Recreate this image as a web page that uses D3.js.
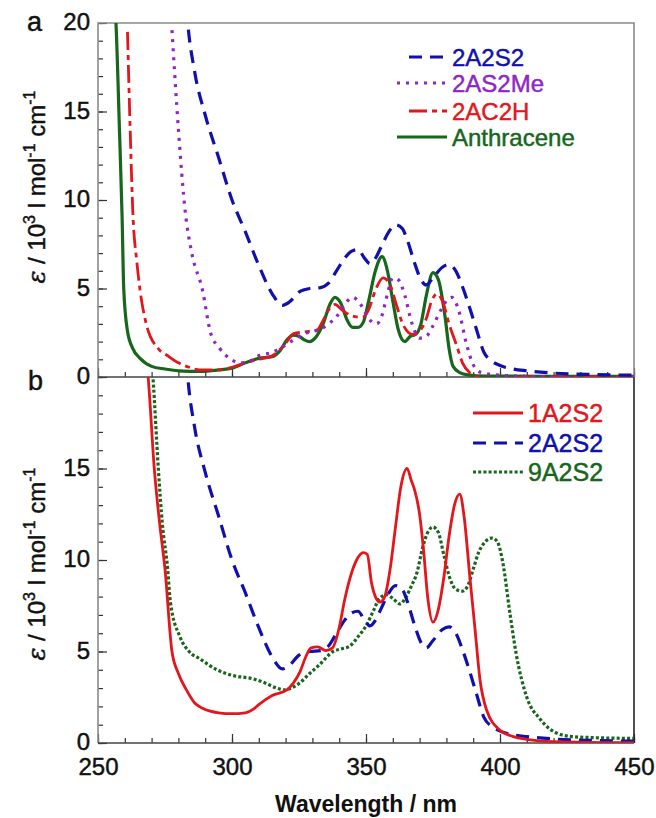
<!DOCTYPE html>
<html>
<head>
<meta charset="utf-8">
<script src="https://cdn.jsdelivr.net/npm/d3@7"></script>
<style>
  body { margin: 0; background: #fff; }
  svg { display: block; font-family: "Liberation Sans", Arial, sans-serif; }
  text { paint-order: stroke; stroke-width: 0.45px; }
</style>
</head>
<body>
<div id="chart"></div>
<script>
{
  // wavelength (nm), epsilon (10^3 l mol-1 cm-1)
  const A2S2_2 = [[282.5, 22], [283.5, 20], [286, 17.3], [290, 14.8], [295, 12.4], [300, 10.0], [305, 8.2], [310, 6.3], [315, 4.7], [318.8, 4.05], [321.5, 4.25], [325, 4.8], [329, 5.0], [333, 5.05], [336, 5.3], [339, 6.0], [342, 6.7], [344.5, 7.1], [347, 7.2], [349.5, 6.7], [351.5, 6.4], [353.5, 6.7], [355.5, 7.3], [358.5, 8.2], [361, 8.6], [363.5, 8.4], [365.5, 7.7], [368, 6.5], [370.5, 5.5], [372.5, 5.2], [375, 5.6], [378.5, 6.2], [381, 6.35], [383.5, 6.0], [386, 5.1], [388.5, 4.0], [391, 2.8], [394, 1.4], [397, 0.9], [400, 0.65], [405, 0.45], [410, 0.35], [420, 0.22], [435, 0.14], [450, 0.1]];

  const AS2Me_2 = [[277.6, 19.6], [280, 14], [282.5, 9.4], [285, 7.0], [289, 4.9], [292, 2.5], [295.5, 1.6], [300, 0.96], [303, 0.8], [306, 0.85], [310, 1.2], [315, 1.4], [320, 1.8], [324, 2.2], [328, 2.5], [333, 2.7], [336, 3.0], [339, 3.4], [342, 4.1], [345, 4.5], [348, 4.1], [351, 3.3], [354, 3.0], [356, 3.5], [358, 4.7], [360, 5.6], [362, 5.5], [364.5, 4.6], [367, 3.1], [370, 2.2], [372.5, 2.3], [375, 2.9], [378, 3.8], [380, 4.3], [382, 4.5], [384.5, 3.8], [387.6, 1.8], [390, 0.7], [393, 0.25], [400, 0.1], [420, 0.0], [437, -0.1], [450, 0]];

  const AC2H_2 = [[261, 19.5], [262, 14], [263, 9.3], [264.5, 6.5], [265.7, 4.9], [268, 3.0], [272.5, 1.6], [276, 1.2], [280, 0.8], [284, 0.55], [288, 0.4], [295, 0.4], [300, 0.55], [305, 0.8], [310, 1.0], [315, 1.2], [320, 1.9], [323, 2.45], [327, 2.55], [331.7, 2.65], [334, 3.2], [336.5, 3.9], [338.4, 4.1], [341, 3.8], [344, 3.5], [346.5, 3.4], [349, 3.4], [351, 3.8], [353.5, 4.9], [356.4, 5.6], [359, 5.2], [361.5, 4.0], [364, 2.9], [367.5, 2.4], [370, 2.6], [372.5, 3.3], [374.5, 4.3], [376.5, 4.7], [378.5, 4.3], [381, 3.0], [384, 1.7], [386, 0.8], [389, 0.2], [392, 0.0], [400, -0.1], [410, 0.0], [450, 0.0]];

  const anthracene = [[255.5, 22], [256.7, 20], [258, 14], [259, 9], [259.6, 5], [261, 2.6], [263, 1.6], [265.7, 1.05], [270, 0.6], [275, 0.45], [280, 0.35], [288, 0.32], [295, 0.4], [300, 0.5], [305, 0.8], [310, 1.05], [315, 1.15], [318, 1.5], [320.5, 2.1], [322.8, 2.37], [325, 2.3], [327, 2.1], [329, 2.0], [331, 2.2], [334, 3.0], [336.5, 4.1], [338.4, 4.5], [340.5, 4.2], [343, 3.2], [345, 2.8], [347, 2.8], [349, 3.1], [351, 4.3], [353.5, 6.0], [356, 6.8], [358, 6.0], [360, 4.3], [362, 2.7], [364.5, 2.0], [366.5, 2.3], [368.5, 2.4], [370.5, 3.0], [372.5, 4.6], [375, 5.9], [377, 5.5], [379.5, 3.4], [381, 1.6], [382.5, 0.6], [385, 0.25], [388, 0.12], [395, 0.05], [450, 0.03]];

  const A2S2_1 = [[268, 21], [268.7, 20], [271, 15], [273, 12], [275, 9.5], [277.6, 5.0], [280, 3.8], [283, 2.9], [286, 2.2], [289, 1.9], [295, 1.65], [300, 1.6], [305, 1.65], [308, 1.85], [310, 2.1], [315, 2.6], [320.5, 2.9], [323, 3.3], [325.4, 3.9], [327.5, 4.7], [329.5, 5.2], [332, 5.25], [335, 5.05], [337.5, 5.2], [340, 6.3], [342, 7.8], [344, 9.0], [346.5, 10.0], [349, 10.4], [350.5, 10.3], [352, 8.8], [353.5, 8.0], [355.2, 7.7], [357, 8.0], [359, 9.5], [361, 11.8], [363, 14.0], [365.3, 15.0], [367, 14.3], [368, 13.9], [370, 12.5], [371.5, 10.5], [373, 8.0], [375, 6.6], [377, 7.3], [379, 9.0], [381, 11.3], [383, 13.0], [385, 13.6], [386.5, 12.5], [388.8, 9.0], [390.7, 6.2], [392.5, 3.5], [395, 1.8], [400, 0.7], [405, 0.35], [410, 0.2], [420, 0.08], [450, 0.02]];

  const A2S2_9 = [[270, 21], [270.5, 20], [272.5, 15], [274, 12], [276, 9.5], [277, 7.7], [280.6, 5.8], [284, 5.0], [288, 4.6], [294.4, 4.0], [300, 3.7], [308, 3.5], [312, 3.3], [316.7, 3.0], [319.5, 2.9], [322, 3.0], [325.4, 3.3], [329, 3.8], [332.8, 4.3], [337.7, 5.0], [341, 5.15], [344, 5.3], [347, 5.8], [350, 6.4], [353, 7.3], [355, 7.9], [357.8, 8.1], [360, 7.9], [362.7, 7.6], [365, 8.0], [367, 8.6], [369, 9.3], [371, 10.6], [373, 11.5], [375, 11.8], [377, 11.5], [379, 10.3], [381.3, 9.0], [383.5, 8.4], [386, 8.3], [388, 8.6], [390, 9.5], [392, 10.4], [394.5, 11.0], [397, 11.2], [399, 11.0], [401, 9.9], [403.7, 7.1], [406, 4.9], [410, 2.5], [415, 1.3], [421, 0.55], [427, 0.35], [433.6, 0.3], [450, 0.25]];

  const X_MAJOR = [250, 300, 350, 400, 450];
  const Y_MAJOR_TOP = [0, 5, 10, 15, 20];
  const Y_MAJOR_BOT = [0, 5, 10, 15];

  const BLUE = "#1010ad";
  const PURPLE = "#8f25c6";
  const RED = "#e3161c";
  const GREEN = "#16661b";

  const width = 656;
  const height = 818;
  const left = 98, right = 634, top = 23, mid = 377, bottom = 743;

  const svg = d3.select("#chart").append("svg")
    .attr("width", width)
    .attr("height", height);

  const x = d3.scaleLinear().domain([250, 450]).range([left, right]);
  const yTop = d3.scaleLinear().domain([0, 20]).range([mid, top]);
  const yBot = d3.scaleLinear().domain([0, 20]).range([bottom, mid]);

  const defs = svg.append("defs");
  defs.append("clipPath").attr("id", "clipTop").append("rect")
    .attr("x", left).attr("y", top).attr("width", right - left).attr("height", mid - top);
  defs.append("clipPath").attr("id", "clipBot").append("rect")
    .attr("x", left).attr("y", mid).attr("width", right - left).attr("height", bottom - mid);

  function styleAxis(s) {
    s.select(".domain").remove();
    s.selectAll("line").attr("stroke", "#333").attr("stroke-width", 1.2);
    s.selectAll("text").attr("font-size", 24).attr("fill", "#111").attr("stroke", "#111")
      .attr("font-family", "'Liberation Sans', Arial, sans-serif");
  }

  // axes (inward ticks)
  function xAxis(y0, labels) {
    const g = svg.append("g").attr("transform", `translate(0,${y0})`);
    g.call(d3.axisBottom(x).tickValues(d3.range(250, 451, 10)).tickSize(-5).tickSizeOuter(0).tickFormat(""));
    const gm = svg.append("g").attr("transform", `translate(0,${y0})`);
    gm.call(d3.axisBottom(x).tickValues(X_MAJOR).tickSize(-9).tickSizeOuter(0).tickPadding(15)
      .tickFormat(labels ? d3.format("d") : ""));
    styleAxis(g);
    styleAxis(gm);
  }

  function yAxis(scaleY, majors) {
    const g = svg.append("g").attr("transform", `translate(${left},0)`);
    g.call(d3.axisLeft(scaleY).tickValues(d3.range(0, 21, 1)).tickSize(-5).tickSizeOuter(0).tickFormat(""));
    const gm = svg.append("g").attr("transform", `translate(${left},0)`);
    gm.call(d3.axisLeft(scaleY).tickValues(majors).tickSize(-9).tickSizeOuter(0).tickPadding(8).tickFormat(d3.format("d")));
    styleAxis(g);
    styleAxis(gm);
    gm.selectAll("text").attr("dy", "0.28em");
  }

  xAxis(mid, false);
  xAxis(bottom, true);
  yAxis(yTop, Y_MAJOR_TOP);
  yAxis(yBot, Y_MAJOR_BOT);

  // frame
  const frame = svg.append("g");
  frame.append("path").attr("d", `M${left},${mid}V${top}H${right}V${mid}`)
    .attr("fill", "none").attr("stroke", "#8a8a8a").attr("stroke-width", 1.6);
  frame.append("path").attr("d", `M${left},${mid}V${bottom}`)
    .attr("fill", "none").attr("stroke", "#8a8a8a").attr("stroke-width", 1.6);
  frame.append("path").attr("d", `M${right},${mid}V${bottom}`)
    .attr("fill", "none").attr("stroke", "#222").attr("stroke-width", 1.6);
  frame.append("line").attr("x1", left).attr("x2", right).attr("y1", mid).attr("y2", mid)
    .attr("stroke", "#444").attr("stroke-width", 1.6);
  frame.append("line").attr("x1", left).attr("x2", right).attr("y1", bottom).attr("y2", bottom)
    .attr("stroke", "#444").attr("stroke-width", 1.6);

  const topSeries = [
    { name: "2A2S2", data: A2S2_2, color: BLUE, dash: "13,8", w: 3.2 },
    { name: "2AS2Me", data: AS2Me_2, color: PURPLE, dash: "3,6", w: 3.2 },
    { name: "2AC2H", data: AC2H_2, color: RED, dash: "18,5,5,5", w: 2.8 },
    { name: "Anthracene", data: anthracene, color: GREEN, dash: null, w: 3.2 }
  ];
  const botSeries = [
    { name: "1A2S2", data: A2S2_1, color: RED, dash: null, w: 2.8 },
    { name: "2A2S2", data: A2S2_2, color: BLUE, dash: "13,8", w: 3.2 },
    { name: "9A2S2", data: A2S2_9, color: GREEN, dash: "3,2.2", w: 3.2 }
  ];

  function drawLines(series, scaleY, clipId) {
    const line = d3.line().x(d => x(d[0])).y(d => scaleY(d[1])).curve(d3.curveMonotoneX);
    const g = svg.append("g").attr("clip-path", `url(#${clipId})`);
    g.selectAll("path").data(series.slice().reverse()).enter().append("path")
      .attr("d", d => line(d.data))
      .attr("fill", "none")
      .attr("stroke", d => d.color)
      .attr("stroke-width", d => d.w)
      .attr("stroke-dasharray", d => d.dash)
      .attr("stroke-linejoin", "round");
  }
  drawLines(topSeries, yTop, "clipTop");
  drawLines(botSeries, yBot, "clipBot");

  // legends
  function legend(series, x1, tx, ys, fontSize, starts) {
    series.forEach((s, i) => {
      svg.append("line")
        .attr("x1", starts[i]).attr("x2", x1)
        .attr("y1", ys[i]).attr("y2", ys[i])
        .attr("stroke", s.color).attr("stroke-width", s.w)
        .attr("stroke-dasharray", s.dash);
      svg.append("text")
        .attr("x", tx).attr("y", ys[i] + fontSize * 0.36)
        .attr("font-size", fontSize).attr("fill", s.color).attr("stroke", s.color)
        .text(s.name);
    });
  }
  legend(topSeries, 447, 452, [57, 83, 111, 137], 24, [409, 397, 409, 397]);
  legend(botSeries, 523, 528, [413, 443, 472], 25, [473, 473, 473]);

  // panel letters
  svg.append("text").attr("x", 27).attr("y", 31).attr("font-size", 27).attr("fill", "#111").attr("stroke", "#111").text("a");
  svg.append("text").attr("x", 28).attr("y", 390).attr("font-size", 27).attr("fill", "#111").attr("stroke", "#111").text("b");

  // y titles
  function yTitle(cy) {
    const t = svg.append("text")
      .attr("transform", `translate(45,${cy}) rotate(-90)`)
      .attr("text-anchor", "middle")
      .attr("font-size", 24).attr("fill", "#111").attr("stroke", "#111");
    t.append("tspan").attr("font-style", "italic").attr("font-family", "'DejaVu Serif', serif").text("ε");
    t.append("tspan").text("  / 10");
    t.append("tspan").attr("font-size", 16).attr("dy", -10).text("3");
    t.append("tspan").attr("dy", 10).text(" l mol");
    t.append("tspan").attr("font-size", 16).attr("dy", -10).text("-1");
    t.append("tspan").attr("dy", 10).text(" cm");
    t.append("tspan").attr("font-size", 16).attr("dy", -10).text("-1");
  }
  yTitle(187);
  yTitle(564);

  svg.append("text")
    .attr("x", 366).attr("y", 812)
    .attr("text-anchor", "middle")
    .attr("font-size", 23).attr("font-weight", "bold").attr("fill", "#111").attr("stroke", "none")
    .text("Wavelength / nm");
}
</script>
</body>
</html>
